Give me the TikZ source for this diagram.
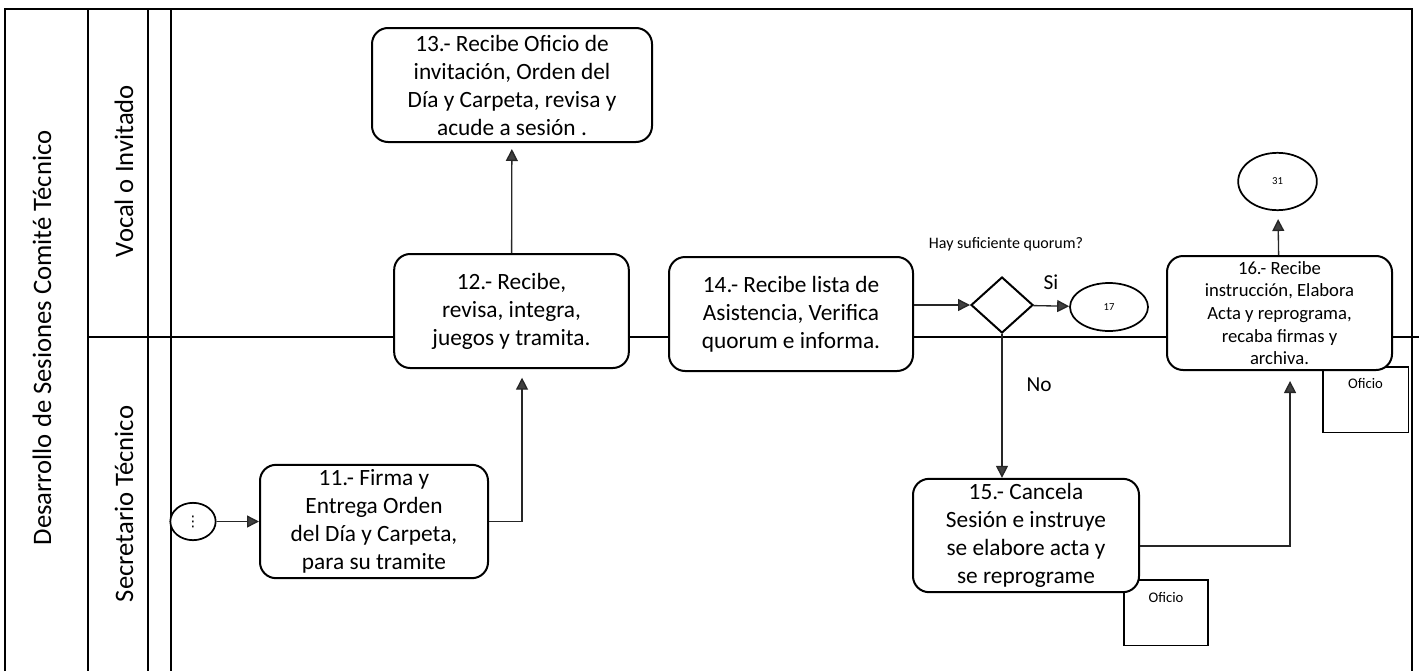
\documentclass[tikz,border=0pt]{standalone}
\usepackage{fontspec}
\setmainfont{Carlito}
\newfontfamily\symfont{DejaVu Sans}
\usetikzlibrary{shapes.geometric,arrows.meta}

\begin{document}
\begin{tikzpicture}[x=0.75pt,y=0.75pt,yscale=-1,xscale=1,
  lane/.style={line width=0.9pt},
  lanelabel/.style={rotate=90,inner sep=0.75pt,font=\fontsize{20}{24}\selectfont},
  task/.style={draw,line width=1.5pt,rounded corners=12pt,fill=white,align=center,inner sep=1pt,font=\fontsize{17.5}{21}\selectfont},
  conector/.style={draw,ellipse,line width=1.3pt,fill=white,inner sep=0pt,font=\fontsize{8}{10}\selectfont},
  oficio/.style={draw,line width=1pt,inner sep=3pt,font=\fontsize{11}{13}\selectfont},
  flow/.style={line width=1pt,draw=black!85,-{Triangle[length=9pt,width=9pt,fill=black!75]}}]
\useasboundingbox (0,0) rectangle (1419,671);

%Lanes
\draw [lane] (5,671) -- (5,9) -- (1412,9) -- (1412,671) ;
\draw [lane] (88,9) -- (88,671) ;
\draw [lane] (148,9) -- (148,671) ;
\draw [lane] (171,9) -- (171,671) ;
\draw [lane] (88,337) -- (1419,337) ;

% Text Node
\draw (42,338) node (pool) [lanelabel] {Desarrollo de Sesiones Comité Técnico};
\draw (124,171) node (vocal) [lanelabel] {Vocal o Invitado};
\draw (124,504) node (secre) [lanelabel] {Secretario Técnico};

%Oficio
\draw (1166,612.5) node (ofi15) [oficio,minimum width=63pt,minimum height=49pt] {};
\node [oficio,draw=none] at ([yshift=14pt]ofi15.north) {Oficio};
\draw (1365.5,399.5) node (ofi16) [oficio,minimum width=64pt,minimum height=49pt] {};
\node [oficio,draw=none] at ([yshift=13pt]ofi16.north) {Oficio};

%Tasks
\draw (193,521.5) node (ini) [conector,minimum width=34pt,minimum height=28pt,font=\symfont\fontsize{11}{13}\selectfont] {⋮};
\draw (374,521.5) node (t11) [task,minimum width=171pt,minimum height=85pt] {11.- Firma y\\Entrega Orden\\del Día y Carpeta,\\para su tramite};
\draw (511.5,311) node (t12) [task,minimum width=176pt,minimum height=85.5pt] {12.- Recibe,\\revisa, integra,\\juegos y tramita.};
\draw (512,85) node (t13) [task,minimum width=210pt,minimum height=85.5pt] {13.- Recibe Oficio de\\invitación, Orden del\\Día y Carpeta, revisa y\\acude a sesión .};
\draw (791,314) node (t14) [task,minimum width=183pt,minimum height=85.5pt] {14.- Recibe lista de\\Asistencia, Verifica\\quorum e informa.};
\draw (1002,305) node (quorum) [diamond,draw,line width=1.5pt,fill=white,inner sep=0pt,minimum width=46.5pt,minimum height=42pt] {};
\draw (1109,307) node (c17) [conector,minimum width=58.5pt,minimum height=36pt] {17};
\draw (1026,535.5) node (t15) [task,minimum width=169.5pt,minimum height=85pt] {15.- Cancela\\Sesión e instruye\\se elabore acta y\\se reprograme};
\draw (1279.5,313) node (t16) [task,minimum width=168.75pt,minimum height=85.5pt,font=\fontsize{14}{17}\selectfont] {16.- Recibe\\instrucción, Elabora\\Acta y reprograma,\\recaba firmas y\\archiva.};
\draw (1277.5,181.5) node (c31) [conector,minimum width=59pt,minimum height=43pt] {31};

% Text Node
\draw (1006,244) node (pregunta) [font=\fontsize{12}{14}\selectfont] {Hay suficiente quorum?};
\draw (1051,282) node (si) [font=\fontsize{16}{19}\selectfont] {Si};
\draw (1039,385) node (no) [font=\fontsize{16}{19}\selectfont] {No};

%Flows
\draw [flow] (ini) -- (t11) ;
\draw [flow,shorten >=6.5pt] (t11.east) -| ([xshift=7.9pt]t12.south) ;
\draw [flow,shorten >=4.5pt] (t12) -- (t13) ;
\draw [flow] (t14.east |- quorum.west) -- (quorum.west) ;
\draw [flow] (quorum) -- (c17) ;
\draw [flow] (quorum.south) -- (quorum.south |- t15.north) ;
\draw [flow,shorten >=7.5pt] ([yshift=7.9pt]t15.east) -| ([xshift=7.9pt]t16.south) ;
\draw [flow,shorten >=6pt] (t16) -- (c31) ;

\end{tikzpicture}
\end{document}
